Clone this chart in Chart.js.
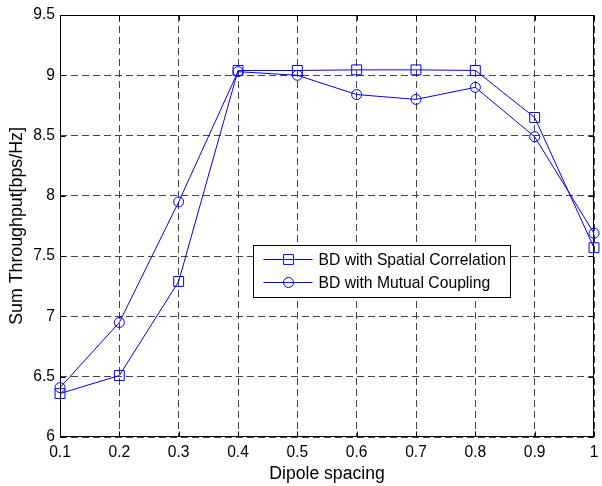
<!DOCTYPE html>
<html>
<head>
<meta charset="utf-8">
<script src="https://cdn.jsdelivr.net/npm/chart.js@4"></script>
<style>
  html, body { margin: 0; padding: 0; background: #fff; }
  #wrap { width: 602px; height: 486px; }
</style>
</head>
<body>
<div id="wrap"><canvas id="chart" width="602" height="486"></canvas></div>
<script>
// dipole spacing on the x axis
const spacing = [0.1, 0.2, 0.3, 0.4, 0.5, 0.6, 0.7, 0.8, 0.9, 1.0];
// sum throughput [bps/Hz]
const spatialCorr = [6.36, 6.51, 7.29, 9.04, 9.04, 9.045, 9.045, 9.04, 8.65, 7.57];
const mutualCoup  = [6.41, 6.95, 7.95, 9.03, 9.00, 8.84, 8.80, 8.90, 8.49, 7.69];
const seriesNames = ["BD with Spatial Correlation", "BD with Mutual Coupling"];

const xTicks = [0.1, 0.2, 0.3, 0.4, 0.5, 0.6, 0.7, 0.8, 0.9, 1];
const yTicks = [6, 6.5, 7, 7.5, 8, 8.5, 9, 9.5];

const FONT = "'Liberation Sans', Arial, sans-serif";
const BLUE = "#0000ff";

const toXY = (ys) => spacing.map((x, i) => ({ x: x, y: ys[i] }));

// box round the axes + small inside ticks (matlab style)
const boxPlugin = {
    id: "box",
    afterDatasetsDraw(chart) {
        const { ctx, chartArea: a, scales } = chart;
        ctx.save();
        ctx.strokeStyle = "#000";
        ctx.lineWidth = 1;
        const L = Math.round(a.left) + 0.5, R = Math.round(a.right) - 0.5;
        const T = Math.round(a.top) + 0.5, B = Math.round(a.bottom) - 0.5;
        ctx.beginPath();
        xTicks.forEach(v => {
            const px = Math.round(scales.x.getPixelForValue(v)) + 0.5;
            ctx.moveTo(px, B); ctx.lineTo(px, B - 5);
            ctx.moveTo(px, T); ctx.lineTo(px, T + 5);
        });
        yTicks.forEach(v => {
            const py = Math.round(scales.y.getPixelForValue(v)) + 0.5;
            ctx.moveTo(L, py); ctx.lineTo(L + 5, py);
            ctx.moveTo(R, py); ctx.lineTo(R - 5, py);
        });
        ctx.stroke();
        ctx.strokeRect(L, T, R - L, B - T);
        ctx.restore();
    }
};

// legend box inside the plot
const legendPlugin = {
    id: "boxLegend",
    afterDraw(chart) {
        const { ctx, chartArea: a } = chart;
        const x0 = a.left + 193.5, y0 = a.top + 230.5;
        const w = 257, h = 52;
        ctx.save();
        ctx.fillStyle = "#fff";
        ctx.fillRect(x0, y0, w, h);
        ctx.strokeStyle = "#000";
        ctx.lineWidth = 1;
        ctx.strokeRect(x0, y0, w, h);
        ctx.font = "15.7px " + FONT;
        ctx.textBaseline = "middle";
        chart.data.datasets.forEach((ds, i) => {
            const cy = y0 + 14 + i * 23;
            ctx.strokeStyle = BLUE;
            ctx.lineWidth = 1;
            ctx.beginPath();
            ctx.moveTo(x0 + 10, cy); ctx.lineTo(x0 + 59, cy);
            ctx.stroke();
            ctx.fillStyle = "rgba(0,0,0,0)";
            Chart.helpers.drawPoint(ctx, {
                pointStyle: ds.pointStyle, radius: ds.pointRadius, borderWidth: 1
            }, x0 + 35, cy);
            ctx.fillStyle = "#000";
            ctx.fillText(ds.label, x0 + 65, cy + 1);
        });
        ctx.restore();
    }
};

const ctx = document.getElementById("chart").getContext("2d");
new Chart(ctx, {
    type: "line",
    data: {
        datasets: [
            {
                label: seriesNames[0],
                data: toXY(spatialCorr),
                borderColor: BLUE,
                borderWidth: 1,
                pointStyle: "rect",
                pointRadius: 7,
                pointBorderColor: BLUE,
                pointBackgroundColor: "rgba(0,0,0,0)",
                pointBorderWidth: 1,
                tension: 0,
                clip: false
            },
            {
                label: seriesNames[1],
                data: toXY(mutualCoup),
                borderColor: BLUE,
                borderWidth: 1,
                pointStyle: "circle",
                pointRadius: 5,
                pointBorderColor: BLUE,
                pointBackgroundColor: "rgba(0,0,0,0)",
                pointBorderWidth: 1,
                tension: 0,
                clip: false
            }
        ]
    },
    options: {
        responsive: false,
        animation: false,
        events: [],
        layout: { padding: { top: 15, right: 4, left: 0, bottom: 0 } },
        plugins: { legend: { display: false }, tooltip: { enabled: false } },
        scales: {
            x: {
                type: "linear",
                min: 0.1, max: 1,
                afterBuildTicks: (s) => { s.ticks = xTicks.map(v => ({ value: v })); },
                afterFit: (s) => { s.height = 49; s.paddingLeft = 0; s.paddingRight = 0; },
                ticks: {
                    color: "#000",
                    font: { family: FONT, size: 15.6 },
                    padding: 6,
                    maxRotation: 0,
                    callback: (v) => String(Number(v.toFixed(1)))
                },
                grid: { color: "#444", lineWidth: 1, drawTicks: false },
                border: { display: false, dash: [7, 4] },
                title: {
                    display: true, text: "Dipole spacing", color: "#000",
                    font: { family: FONT, size: 17.6 },
                    padding: { top: 0, bottom: 1.5 }
                }
            },
            y: {
                min: 6, max: 9.5,
                afterBuildTicks: (s) => { s.ticks = yTicks.map(v => ({ value: v })); },
                afterFit: (s) => { s.width = 60; s.paddingTop = 0; s.paddingBottom = 0; },
                ticks: {
                    color: "#000",
                    font: { family: FONT, size: 15.6 },
                    padding: 5,
                    callback: (v) => String(v)
                },
                grid: { color: "#444", lineWidth: 1, drawTicks: false },
                border: { display: false, dash: [7, 4] },
                title: {
                    display: true, text: "Sum Throughput[bps/Hz]", color: "#000",
                    font: { family: FONT, size: 17.8 },
                    padding: { top: 6, bottom: 0 }
                }
            }
        }
    },
    plugins: [boxPlugin, legendPlugin]
});
</script>
</body>
</html>
